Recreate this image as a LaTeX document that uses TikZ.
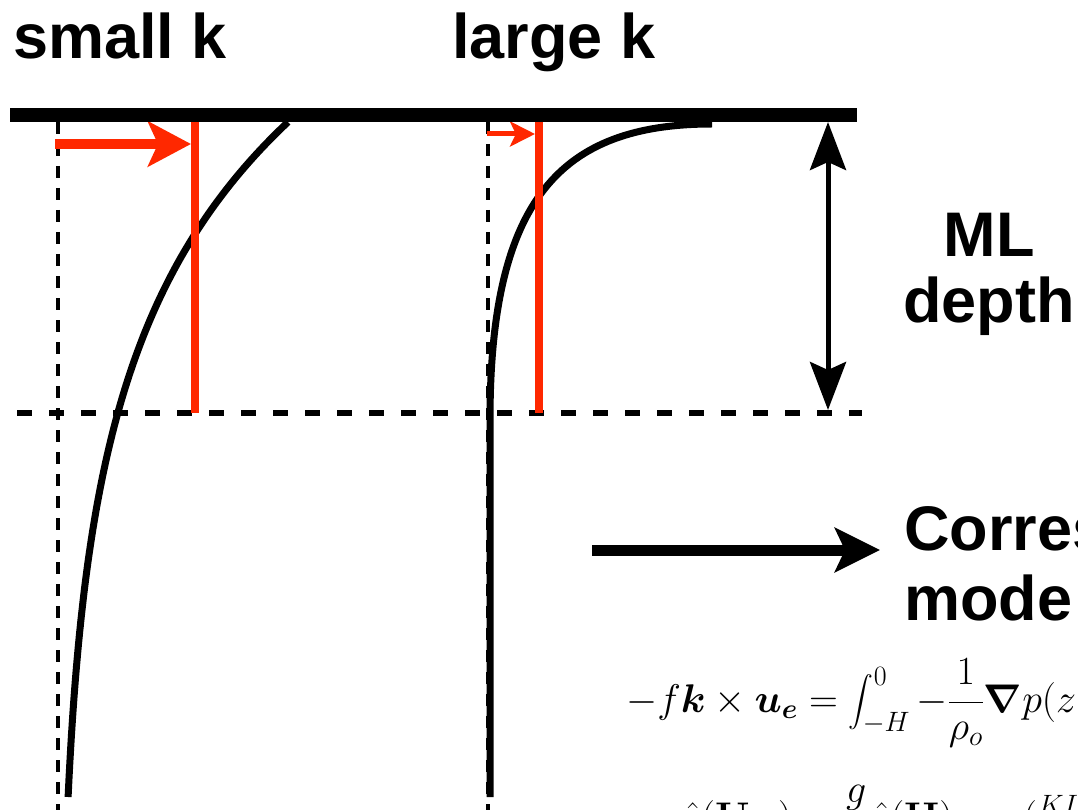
\RequirePackage{fix-cm}
\documentclass[tikz,border=0pt]{standalone}
\usepackage{amsmath}
\usepackage{exscale}
\usepackage[no-math]{fontspec}
\newfontfamily\arialfont{Liberation Sans}
\usepackage{xcolor}
\usetikzlibrary{arrows.meta, positioning}
\definecolor{mlred}{RGB}{255,40,0}

\begin{document}
\begin{tikzpicture}[
    x=1pt, y=-1pt,
    bigtxt/.style={font=\arialfont\bfseries\fontsize{63}{66}\selectfont, inner sep=0pt, anchor=base west},
    eqtxt/.style={font=\fontsize{40}{46}\selectfont, inner sep=0pt, anchor=base west},
    surface/.style={line width=14pt},
    mlline/.style={line width=6.5pt, dash pattern=on 15pt off 17pt},
    refline/.style={line width=4.5pt, dash pattern=on 12pt off 10pt},
    profile/.style={line width=7pt},
    redbar/.style={mlred, line width=8pt},
    bigred/.style={mlred, line width=10pt, -{Stealth[length=43pt, width=45pt, inset=10pt]}},
    smallred/.style={mlred, line width=5pt, -{Stealth[length=25pt, width=25pt, inset=6pt]}},
    mlarrow/.style={line width=5pt, {Stealth[length=48pt, width=36pt, inset=8pt]}-{Stealth[length=48pt, width=36pt, inset=8pt]}},
    thickarrow/.style={line width=11pt, -{Stealth[length=45pt, width=44pt, inset=10pt]}}
]
\useasboundingbox (0,0) rectangle (1078,810);
\clip (0,0) rectangle (1078,810);

% Labels
\node[bigtxt] (smallk) at (13,59) {small k};
\node[bigtxt] (largek) at (452,59) {large k};
\node[bigtxt, anchor=base] (mltxt) at (989,257) {ML};
\node[bigtxt, anchor=base] (depthtxt) at (989,322) {depth};
\node[bigtxt] (corrtxt) at (904,550) {Corres};
\node[bigtxt] (modetxt) at (904,620) {mode};

% Equations
\node[eqtxt] (eqone) at (626,712) {$-f\boldsymbol{k}\times\boldsymbol{u_e}=\displaystyle\int_{-H}^{0}-\frac{1}{\rho_o}\boldsymbol{\nabla}p(z$};
\node[eqtxt] (eqtwo) at (680,830) {$\hat{\eta}(\mathbf{U}_{ek})=\dfrac{g}{f}\hat{\eta}(\mathbf{H})\,\exp(\frac{KI}{H}$};

% Reference lines
\draw[refline] (58,122) -- (58,810);
\draw[refline] (488,122) -- (488,810);
\draw[mlline] (17,413) -- (862,413);

% Profiles
\draw[profile] plot[domain=0:675, samples=120] ({58+230*exp(-\x/216)}, {122+\x});
\draw[profile] (712,124) .. controls (560,124) and (490,200) .. (490,420) -- (490,797);

% Mixed layer values
\draw[redbar] (195,122) -- (195,413);
\draw[redbar] (539,122) -- (539,413);
\coordinate (skfrom) at (55,144);
\coordinate (skto) at (191,144);
\coordinate (lkfrom) at (487,134);
\coordinate (lkto) at (535,134);
\draw[bigred] (skfrom) -- (skto);
\draw[smallred] (lkfrom) -- (lkto);

% Surface
\draw[surface] (10,115) -- (857,115);

% Arrows
\coordinate (mltop) at (828,122);
\coordinate (mlbot) at (828,410);
\draw[mlarrow] (mltop) -- (mlbot);
\coordinate (corrfrom) at (592,550);
\coordinate (corrto) at (880,550);
\draw[thickarrow] (corrfrom) -- (corrto);

\end{tikzpicture}
\end{document}
